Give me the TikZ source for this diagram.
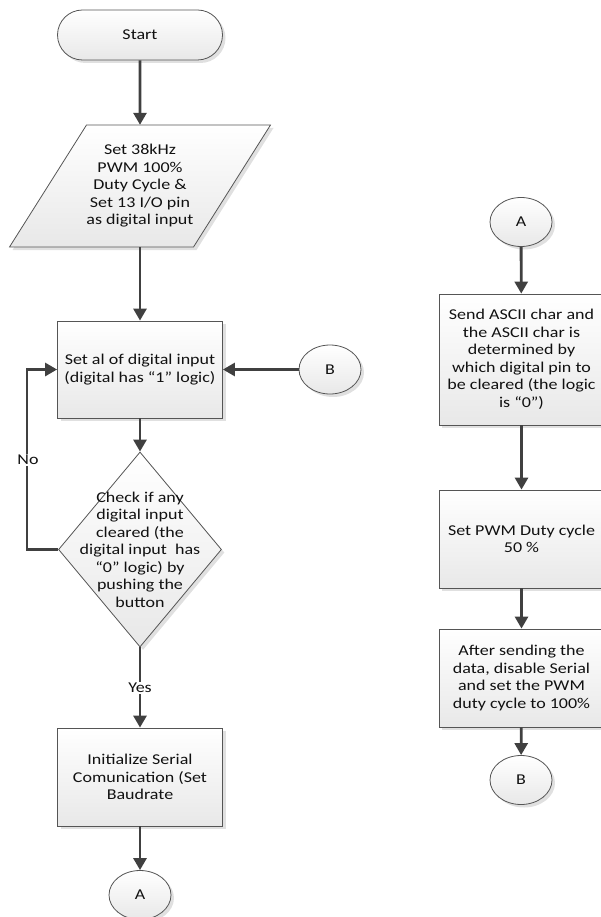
\documentclass[tikz,border=0pt]{standalone}
\usepackage{fontspec}
\setmainfont{Carlito}[FakeStretch=1.2]
\usetikzlibrary{arrows.meta,shapes.geometric,shapes.misc,shadows}
\definecolor{edge}{HTML}{555555}
\definecolor{arrowc}{HTML}{404040}
\definecolor{txt}{HTML}{111111}
\definecolor{shadeb}{HTML}{E8E8E8}
\tikzset{
  shp/.style={draw=edge, line width=0.8pt, top color=white, bottom color=shadeb,
    drop shadow={shadow xshift=3pt, shadow yshift=-3pt, fill=black, opacity=0.12},
    text=txt, align=center, inner sep=0pt, font=\fontsize{15}{17.5}\selectfont},
  procbox/.style={shp, rectangle, minimum width=165pt},
  conn/.style={shp, ellipse, minimum width=62pt, minimum height=49pt},
  term/.style={shp, rounded rectangle, minimum width=165pt, minimum height=50pt},
  flow/.style={draw=arrowc, line width=2.8pt, -{Triangle[length=12pt,width=13pt]}},
  lbl/.style={fill=white, text=txt, inner sep=1.5pt, font=\fontsize{15}{17.5}\selectfont},
  plain/.style={text=txt, align=center, inner sep=0pt, font=\fontsize{15}{17.5}\selectfont}
}
\begin{document}
\begin{tikzpicture}[x=1pt,y=-1pt]
\useasboundingbox (0,0) rectangle (601,917);
% left column
\node[term] (start) at (140,35) {Start};
\path[shp] (86.5,125) -- (270.5,125) -- (193.5,247) -- (9.5,247) -- cycle;
\node[plain, minimum width=100pt, minimum height=122pt] (para) at (140,186)
  {Set 38kHz\\PWM 100\%\\Duty Cycle \&\\Set 13 I/O pin\\as digital input};
\node[procbox, minimum height=97pt] (box1) at (140,369.5)
  {Set al of digital input\\(digital has “1” logic)};
\node[conn] (bl) at (330,369.5) {B};
\node[shp, diamond, minimum width=163pt, minimum height=195pt] (dia) at (140,549.5) {};
\node[plain] (diatext) at (dia.center)
  {Check if any\\digital input\\cleared (the\\digital input\ \ has\\“0” logic) by\\pushing the\\button};
\node[procbox, minimum height=98pt] (box2) at (140,777)
  {Initialize Serial\\Comunication (Set\\Baudrate};
\node[conn] (abot) at (140,895) {A};
% right column
\node[conn] (atop) at (521,222) {A};
\node[procbox, minimum height=131pt] (r1) at (521.5,359.5)
  {Send ASCII char and\\the ASCII char is\\determined by\\which digital pin to\\be cleared (the logic\\is “0”)};
\node[procbox, minimum height=98pt] (r2) at (521.5,539)
  {Set PWM Duty cycle\\50 \%};
\node[procbox, minimum height=98pt] (r3) at (521.5,678)
  {After sending the\\data, disable Serial\\and set the PWM\\duty cycle to 100\%};
\node[conn] (bbot) at (521,780) {B};
\coordinate (nodown) at (27,549.5);
\coordinate (noup) at (27,369.5);
% connectors
\draw[flow] (start) -- (para);
\draw[flow] (para) -- (box1);
\draw[flow] (bl) -- (box1);
\draw[flow] (box1) -- (dia);
\draw[flow] (dia.west) -- (nodown) -- (noup) -- (box1.west);
\node[lbl] (no) at (28,460) {No};
\draw[flow] (dia.south) -- (box2.north);
\node[lbl] (yes) at (140,688) {Yes};
\draw[flow] (box2) -- (abot);
\draw[flow] (atop) -- (r1);
\draw[flow] (r1) -- (r2);
\draw[flow] (r2) -- (r3);
\draw[flow] (r3) -- (bbot);
\end{tikzpicture}
\end{document}
